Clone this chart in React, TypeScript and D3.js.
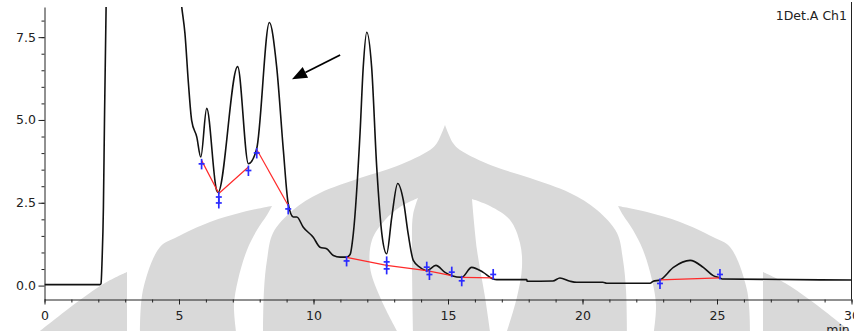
import React, { useEffect, useRef } from 'react';
import * as d3 from 'd3';

// detector trace, retention time (min) vs signal
const traceTime = [
  0, 2.06, 2.1, 2.14, 2.19, 2.23, 2.29, 2.4, 3.0, 4.0, 4.8, 5.1, 5.22, 5.35, 5.47, 5.66, 5.81,
  6.03, 6.4, 6.45, 7.18, 7.58, 7.89, 8.36, 8.63, 8.88, 9.06, 9.25, 9.38, 9.62, 9.99, 10.24,
  10.49, 10.74, 10.99, 11.23, 11.36, 11.48, 11.73, 11.85, 11.98, 12.16, 12.35, 12.54, 12.72,
  12.91, 13.13, 13.34, 13.52, 13.71, 13.96, 14.21, 14.55, 14.89, 15.14, 15.51, 15.88, 16.31,
  16.68, 16.81, 17.93, 17.94, 18.9, 19.16, 19.54, 19.78, 20.76, 20.9, 22.51, 22.63, 22.88,
  23.38, 24.0, 24.49, 24.86, 25.11, 25.19, 30,
];
const traceSignal = [
  0.03, 0.03, 0.06, 0.76, 2.36, 4.99, 8.41, 11, 16, 15, 11, 8.42, 7.62, 6.11, 4.99, 4.49, 3.88,
  5.35, 2.87, 2.81, 6.61, 3.68, 4.14, 7.94, 6.61, 4.08, 2.47, 2.07, 2.07, 1.76, 1.46, 1.16,
  1.11, 0.91, 0.86, 0.86, 0.94, 1.57, 4.6, 6.61, 7.65, 6.61, 3.58, 1.57, 0.96,
  2.07, 3.08, 2.57, 1.56, 0.76, 0.55, 0.45, 0.61, 0.4, 0.3, 0.25, 0.55, 0.4,
  0.2, 0.18, 0.18, 0.13, 0.14, 0.23, 0.13, 0.1, 0.1, 0.07, 0.07, 0.13, 0.17,
  0.55, 0.76, 0.55, 0.3, 0.23, 0.2, 0.17,
];

// integration baselines (red)
const baselineTime = [[5.84, 6.48, 7.58], [7.89, 9.06], [11.23, 12.72, 14.21, 15.14], [15.51, 16.68], [22.88, 25.11]];
const baselineSignal = [[3.78, 2.78, 3.58], [4.11, 2.42], [0.85, 0.61, 0.45, 0.3], [0.25, 0.23], [0.17, 0.23]];

// peak start / end markers (blue), dir 1 = below the point, -1 = above
const markerTime = [5.84, 6.48, 6.48, 7.58, 7.89, 9.06, 11.23, 12.72, 12.72, 14.21, 14.31, 15.14, 15.51, 16.68, 22.88, 25.11];
const markerSignal = [3.78, 2.78, 2.6, 3.58, 4.11, 2.42, 0.85, 0.61, 0.61, 0.45, 0.44, 0.3, 0.25, 0.23, 0.17, 0.23];
const markerDir = [1, 1, 1, 1, 1, 1, 1, 1, -1, -1, 1, -1, 1, -1, 1, -1];

const xMajor = [0, 5, 10, 15, 20, 25, 30];
const yMajor = [0, 2.5, 5, 7.5];
const yLabels = ['0.0', '2.5', '5.0', '7.5'];

// annotation arrow, tail and tip in data units
const arrowTail = [10.99, 6.96];
const arrowTip = [9.2, 6.23];

// background watermark, pixels (crescents mirrored about WM_CX)
const WM_CX = 445;
const domeEdge = [[263, 331], [264, 290], [267, 260], [273, 233], [293, 210], [320, 193], [360, 178], [397, 166], [430, 150], [437, 143], [445, 125]];
const leftArchOuter = [[397, 331], [380, 297], [370, 267], [372, 240], [385, 220], [400, 207], [418, 198]];
const leftArchInner = [[418, 198], [413, 215], [412, 250], [413, 331]];
const rightArchOuter = [[472, 199], [490, 206], [510, 220], [520, 243], [522, 267], [517, 297], [507, 331]];
const rightArchInner = [[490, 331], [485, 297], [477, 250], [472, 199]];
const bandOuter = [[140, 331], [143, 290], [160, 247], [177, 237], [210, 222], [243, 212], [272, 206]];
const bandInner = [[272, 206], [267, 215], [257, 230], [247, 250], [238, 280], [234, 305], [236, 331]];
const tipOuter = [[40, 331], [80, 300], [105, 283], [127, 272]];
const tipInner = [[127, 272], [127, 300], [127, 331]];

const W = 854;
const H = 331;
const FONT = 'DejaVu Sans, sans-serif';

const Chromatogram = () => {
  const ref = useRef<SVGSVGElement>(null);

  useEffect(() => {
    const svg = d3.select(ref.current);
    svg.selectAll('*').remove();

    const x = d3.scaleLinear().domain([0, 30]).range([44.5, 851.5]);
    const y = d3.scaleLinear().domain([-0.42, 8.41]).range([299.5, 7]);

    // watermark
    const wm = d3.line().curve(d3.curveCatmullRom);
    const mirror = (pts: number[][]) => pts.map(p => [2 * WM_CX - p[0], p[1]]);
    const shape = (a: number[][], b: number[][]) =>
      wm(a as any) + (wm(b as any) as string).replace(/^M/, 'L') + 'Z';
    const wmG = svg.append('g');
    const gray = '#d9d9d9';
    wmG.append('path').attr('d', shape(domeEdge, mirror(domeEdge).reverse())).attr('fill', gray);
    wmG.append('path').attr('d', shape(bandOuter, bandInner)).attr('fill', gray);
    wmG.append('path').attr('d', shape(mirror(bandOuter), mirror(bandInner))).attr('fill', gray);
    wmG.append('path').attr('d', shape(tipOuter, tipInner)).attr('fill', gray);
    wmG.append('path').attr('d', shape(mirror(tipOuter), mirror(tipInner))).attr('fill', gray);
    wmG.append('path').attr('d', shape(leftArchOuter, leftArchInner)).attr('fill', '#fff');
    wmG.append('path').attr('d', shape(rightArchOuter, rightArchInner)).attr('fill', '#fff');

    // axes
    const styleAxis = (g: any) => {
      g.attr('font-family', FONT).attr('font-size', 12.5);
      g.selectAll('text').attr('fill', '#222');
      g.selectAll('line').attr('stroke', '#222');
      g.select('.domain').attr('stroke', '#222');
    };

    svg.append('g')
      .attr('transform', 'translate(0,299.5)')
      .call(d3.axisBottom(x).tickValues(d3.range(0, 31, 1)).tickSize(3).tickFormat(() => ''))
      .call((g: any) => g.select('.domain').remove())
      .call(styleAxis);
    svg.append('g')
      .attr('transform', 'translate(0,299.5)')
      .call(d3.axisBottom(x).tickValues(xMajor).tickSize(5).tickSizeOuter(0).tickPadding(6.5).tickFormat(d3.format('d')))
      .call(styleAxis);

    svg.append('g')
      .attr('transform', 'translate(44.5,0)')
      .call(d3.axisLeft(y).tickValues(d3.range(0.5, 8.1, 0.5)).tickSize(3).tickFormat(() => ''))
      .call((g: any) => g.select('.domain').remove())
      .call(styleAxis);
    svg.append('g')
      .attr('transform', 'translate(44.5,0)')
      .call(d3.axisLeft(y).tickValues(yMajor).tickSize(6).tickSizeOuter(0).tickPadding(2.5)
        .tickFormat((d: any, i: number) => yLabels[i]))
      .call(styleAxis);

    // right frame line
    svg.append('line')
      .attr('x1', x(30)).attr('x2', x(30))
      .attr('y1', 2).attr('y2', y.range()[0])
      .attr('stroke', '#222');

    svg.append('defs').append('clipPath').attr('id', 'plot-clip')
      .append('rect')
      .attr('x', x(0)).attr('y', y.range()[1])
      .attr('width', x(30) - x(0)).attr('height', y.range()[0] - y.range()[1]);

    // trace
    const trace = d3.line<number>()
      .x((d, i) => x(traceTime[i]))
      .y(d => y(d))
      .curve(d3.curveMonotoneX);
    svg.append('path')
      .datum(traceSignal)
      .attr('clip-path', 'url(#plot-clip)')
      .attr('fill', 'none')
      .attr('stroke', '#111')
      .attr('stroke-width', 1.6)
      .attr('stroke-linejoin', 'round')
      .attr('d', trace);

    // baselines
    baselineTime.forEach((ts, k) => {
      const line = d3.line<number>().x(d => x(d)).y((d, i) => y(baselineSignal[k][i]));
      svg.append('path')
        .datum(ts)
        .attr('fill', 'none')
        .attr('stroke', '#ff2a2a')
        .attr('stroke-width', 1.2)
        .attr('d', line);
    });

    // markers
    const mk = svg.append('g').attr('stroke', '#2b2bff').attr('stroke-width', 1.7);
    markerTime.forEach((t, i) => {
      const cx = x(t);
      const cy = y(markerSignal[i]);
      const dir = markerDir[i];
      mk.append('line').attr('x1', cx).attr('x2', cx).attr('y1', cy - dir * 1.5).attr('y2', cy + dir * 9);
      mk.append('line').attr('x1', cx - 3).attr('x2', cx + 3).attr('y1', cy + dir * 3.5).attr('y2', cy + dir * 3.5);
    });

    // arrow
    const x1 = x(arrowTail[0]), y1 = y(arrowTail[1]);
    const x2 = x(arrowTip[0]), y2 = y(arrowTip[1]);
    const len = Math.hypot(x2 - x1, y2 - y1);
    const ux = (x2 - x1) / len, uy = (y2 - y1) / len;
    const bx = x2 - ux * 15, by = y2 - uy * 15;
    svg.append('line')
      .attr('x1', x1).attr('y1', y1).attr('x2', bx).attr('y2', by)
      .attr('stroke', '#000').attr('stroke-width', 1.8);
    svg.append('path')
      .attr('d', `M${x2},${y2}L${bx - uy * 6},${by + ux * 6}L${bx + uy * 6},${by - ux * 6}Z`)
      .attr('fill', '#000');

    // texts
    svg.append('text')
      .attr('x', 847).attr('y', 20)
      .attr('text-anchor', 'end')
      .attr('font-family', FONT).attr('font-size', 12.5).attr('fill', '#222')
      .text('1Det.A Ch1');
    svg.append('text')
      .attr('x', 838).attr('y', 334)
      .attr('text-anchor', 'middle')
      .attr('font-family', FONT).attr('font-size', 12.5).attr('fill', '#222')
      .text('min');
  }, []);

  return (
    <svg ref={ref} width={W} height={H}
      style={{ position: 'absolute', left: 0, top: 0, display: 'block', background: '#fff' }} />
  );
};

export default function App() {
  return <Chromatogram />;
}
